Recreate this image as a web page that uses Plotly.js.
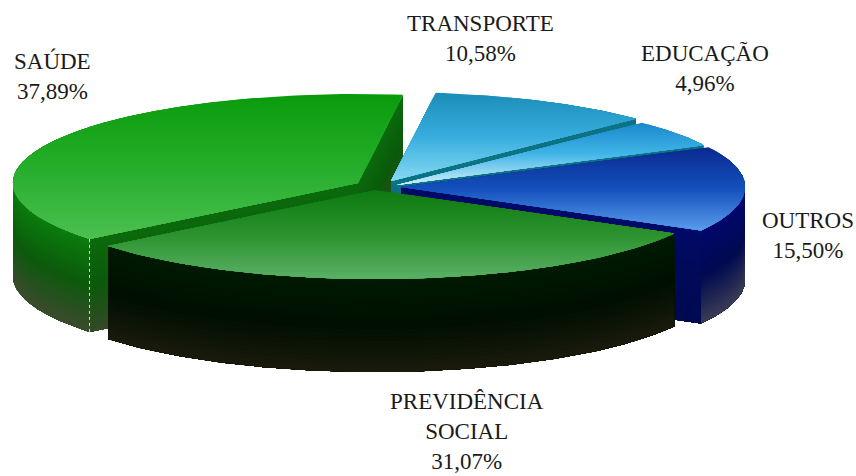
<!DOCTYPE html>
<html><head><meta charset="utf-8">
<script src="https://cdn.plot.ly/plotly-3.0.1.min.js"></script>
<style>html,body{margin:0;padding:0;background:#fff}</style></head>
<body><div id="chart" style="width:856px;height:476px"></div>
<script>
// Data (counter-clockwise on screen, starting at SAÚDE)
const categories = ["SAÚDE", "PREVIDÊNCIA<br>SOCIAL", "OUTROS", "EDUCAÇÃO", "TRANSPORTE"];
const values = [37.89, 31.07, 15.50, 4.96, 10.58];
const valueLabels = ["37,89%", "31,07%", "15,50%", "4,96%", "10,58%"];

// Colours
const topStops = [
  ["#0a9c0c", "#25ad2a", "#4cc052"],
  ["#0d7a10", "#2c922e", "#5ab066"],
  ["#0a2a90", "#1450bc", "#5a9cec"],
  ["#1a88cc", "#40b4e8", "#cfeef8"],
  ["#1a8cb8", "#38aede", "#86d8f2"]
];
const wallStops = [
  ["#0a7c0c", "#0c5a0c", "#3c4a2e"],
  ["#001a02", "#000f00", "#1a1a0c"],
  ["#00086c", "#000a50", "#3a3c54"],
  ["#0d7484", "#0d6070", "#0d6070"],
  ["#0d7484", "#0d6070", "#0d6070"]
];
const cutStops = [
  ["#0b6a0c", "#0a5a0a", "#36482a"],
  ["#001a02", "#000f00", "#1a1a0c"],
  ["#000a68", "#000a58", "#000a50"],
  ["#0d7484", "#0d6070", "#0d6070"],
  ["#0d7484", "#0d6070", "#0d6070"]
];

// Projection of the exploded disc
const centreX = [358, 375, 401, 397, 391];
const centreY = [183, 190, 187, 185, 181];
const radiusXs = [345, 343, 344, 343, 343];
const radiusY = 89, depth = 93, startAngle = 82.5;
const labelX = [52, 467, 808, 705, 480];
const labelY = [76, 431, 235, 68, 38];
const labelSize = 23;

const rad = d => d * Math.PI / 180;
function hex(c){return [1,3,5].map(i=>parseInt(c.substr(i,2),16));}
function mix(stops,t){
  const s=t*(stops.length-1), i=Math.min(Math.floor(s),stops.length-2), f=s-i;
  const a=hex(stops[i]), b=hex(stops[i+1]);
  return "rgb("+a.map((v,k)=>Math.round(v+(b[k]-v)*f)).join(",")+")";
}
function clipY(poly,y0){
  const out=[];
  for(let i=0;i<poly.length;i++){
    const p=poly[i], q=poly[(i+1)%poly.length];
    const a=p[1]>=y0, b=q[1]>=y0;
    if(a) out.push(p);
    if(a!==b){const f=(y0-p[1])/(q[1]-p[1]); out.push([p[0]+(q[0]-p[0])*f,y0]);}
  }
  return out;
}
const traces=[];
function addPoly(poly,color){
  if(poly.length<3) return;
  const xs=poly.map(p=>p[0]), ys=poly.map(p=>p[1]);
  xs.push(xs[0]); ys.push(ys[0]);
  traces.push({type:"scatter",mode:"lines",x:xs,y:ys,fill:"toself",fillcolor:color,
    line:{color:color,width:0},hoverinfo:"skip",showlegend:false});
}
function ribbon(path,stops){
  const layers=24;
  for(let k=0;k<layers;k++){
    const d0=depth*k/layers;
    const poly=path.map(p=>[p[0],p[1]+d0]).concat(path.slice().reverse().map(p=>[p[0],p[1]+depth]));
    addPoly(poly,mix(stops,(k+0.5)/layers));
  }
}
const total=values.reduce((a,b)=>a+b,0);
let cum=0;
const slices=values.map((v,i)=>{
  const a0=startAngle+cum/total*360; cum+=v;
  return {i,a0,a1:startAngle+cum/total*360};
});
function pt(i,a){return [centreX[i]+radiusXs[i]*Math.cos(rad(a)),centreY[i]-radiusY*Math.sin(rad(a))];}
function drawSlice(s){
  const i=s.i, apex=[centreX[i],centreY[i]];
  // cut faces that look towards the viewer
  if(Math.cos(rad(s.a0))>0) ribbon([apex,pt(i,s.a0)],cutStops[i]);
  if(Math.cos(rad(s.a1))<0) ribbon([apex,pt(i,s.a1)],cutStops[i]);
  // outer wall: only the front half of the rim
  const rim=[];
  for(let n=0;n<=80;n++){
    const a=s.a0+(s.a1-s.a0)*n/80;
    if(Math.sin(rad(a))<=0.001) rim.push(pt(i,a));
  }
  if(rim.length>1) ribbon(rim,wallStops[i]);
  // pale dotted seam at the front corner of the largest slice
  if(i===0){
    const c=pt(i,s.a1);
    traces.push({type:"scatter",mode:"lines",x:[c[0],c[0]],y:[c[1],c[1]+depth],
      line:{color:"#d4e4c4",width:1,dash:"dot"},hoverinfo:"skip",showlegend:false});
  }
  // top surface with a vertical gradient
  const top=[apex];
  for(let n=0;n<=80;n++) top.push(pt(i,s.a0+(s.a1-s.a0)*n/80));
  const ys=top.map(p=>p[1]), y0=Math.min(...ys), y1=Math.max(...ys), bands=36;
  for(let b=0;b<bands;b++){
    addPoly(clipY(top,y0+(y1-y0)*b/bands),mix(topStops[i],(b+0.5)/bands));
  }
}
// painter's order: back to front
[0,4,3,2,1].forEach(k=>drawSlice(slices[k]));

const annotations=categories.map((c,i)=>({
  x:labelX[i],y:labelY[i],xref:"x",yref:"y",showarrow:false,xanchor:"center",yanchor:"middle",
  text:c+"<br>"+valueLabels[i],align:"center",
  font:{family:"Liberation Serif, serif",size:labelSize,color:"#1a1a1a"}
}));
const layout={
  width:856,height:476,margin:{l:0,r:0,t:0,b:0},paper_bgcolor:"#fff",plot_bgcolor:"#fff",
  showlegend:false,hovermode:false,annotations,
  xaxis:{range:[0,856],visible:false,fixedrange:true},
  yaxis:{range:[476,0],visible:false,fixedrange:true}
};
Plotly.newPlot("chart",traces,layout,{displayModeBar:false,staticPlot:true});
</script></body></html>
